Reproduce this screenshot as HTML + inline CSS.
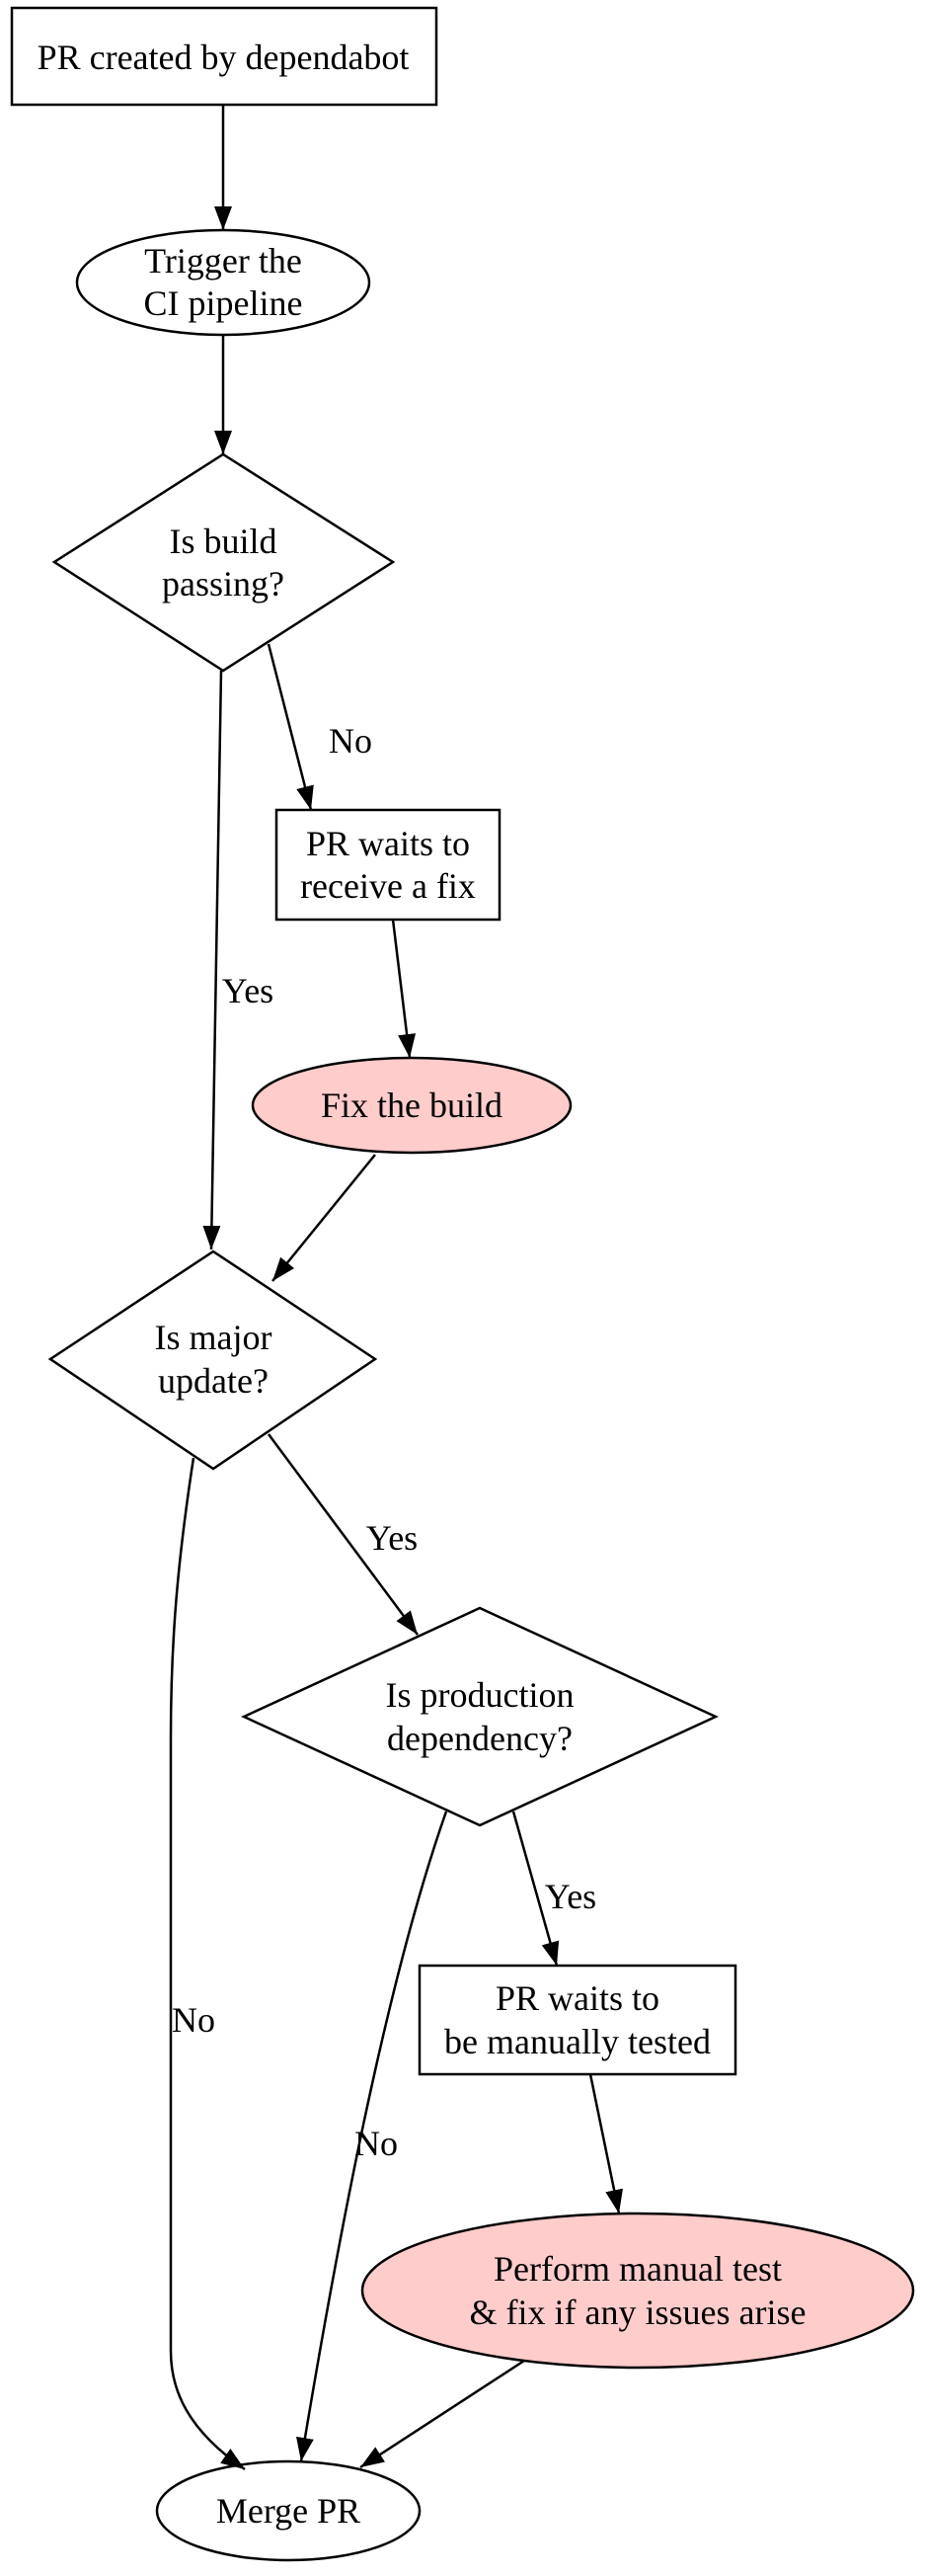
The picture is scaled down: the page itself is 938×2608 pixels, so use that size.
<!DOCTYPE html>
<html><head><meta charset="utf-8"><style>
html,body{margin:0;padding:0;background:#fff;}
svg{display:block;}
text{font-family:"Liberation Serif","Times New Roman",serif;font-size:36px;fill:#000;}
</style></head><body>
<svg width="938" height="2608" viewBox="0 0 938 2608" xmlns="http://www.w3.org/2000/svg">
<defs>
<marker id="a" markerUnits="userSpaceOnUse" markerWidth="26" markerHeight="20" refX="24" refY="10" orient="auto">
<polygon points="0,1 24,10 0,19" fill="#000"/>
</marker>
</defs>
<g fill="none" stroke="#000" stroke-width="2.5">
<rect x="12" y="8" width="430" height="98" fill="#fff"/>
<ellipse cx="226" cy="286" rx="148" ry="53" fill="#fff"/>
<polygon points="226,460 398,569 226,679 55,569" fill="#fff"/>
<rect x="280" y="820" width="226" height="111" fill="#fff"/>
<ellipse cx="417" cy="1119" rx="161" ry="48" fill="#ffcccc"/>
<polygon points="216,1267 380,1376 216,1487 51,1376" fill="#fff"/>
<polygon points="486,1628 725,1738 486,1848 247,1738" fill="#fff"/>
<rect x="425" y="1990" width="320" height="110" fill="#fff"/>
<ellipse cx="646" cy="2319" rx="279" ry="78" fill="#ffcccc"/>
<ellipse cx="292" cy="2542" rx="133" ry="50" fill="#fff"/>

<g marker-end="url(#a)">
<line x1="226" y1="106" x2="226" y2="233"/>
<line x1="226" y1="339" x2="226" y2="460"/>
<line x1="224" y1="679" x2="214" y2="1265"/>
<line x1="272" y1="652" x2="315" y2="820"/>
<line x1="398" y1="931" x2="415" y2="1071"/>
<line x1="380" y1="1169" x2="276" y2="1297"/>
<line x1="272" y1="1452" x2="423" y2="1655"/>
<path d="M196,1476 C180,1580 173,1660 173,1760 L173,2380 C173,2420 190,2460 248,2500"/>
<line x1="520" y1="1834" x2="564" y2="1990"/>
<path d="M452,1834 C390,2010 340,2280 305,2492"/>
<line x1="598" y1="2100" x2="627" y2="2241"/>
<line x1="531" y1="2390" x2="365" y2="2498"/>
</g>
</g>
<g text-anchor="middle" dominant-baseline="central">
<text x="226" y="58">PR created by dependabot</text>
<text x="226" y="264">Trigger the</text>
<text x="226" y="307">CI pipeline</text>
<text x="226" y="548">Is build</text>
<text x="226" y="591">passing?</text>
<text x="393" y="854">PR waits to</text>
<text x="393" y="897">receive a fix</text>
<text x="417" y="1119">Fix the build</text>
<text x="216" y="1354">Is major</text>
<text x="216" y="1398">update?</text>
<text x="486" y="1716">Is production</text>
<text x="486" y="1760">dependency?</text>
<text x="585" y="2023">PR waits to</text>
<text x="585" y="2067">be manually tested</text>
<text x="646" y="2297">Perform manual test</text>
<text x="646" y="2341">&amp; fix if any issues arise</text>
<text x="292" y="2542">Merge PR</text>
<text x="355" y="750">No</text>
<text x="251" y="1003">Yes</text>
<text x="397" y="1557">Yes</text>
<text x="196" y="2045">No</text>
<text x="578" y="1920">Yes</text>
<text x="381" y="2170">No</text>
</g>
</svg>
</body></html>
